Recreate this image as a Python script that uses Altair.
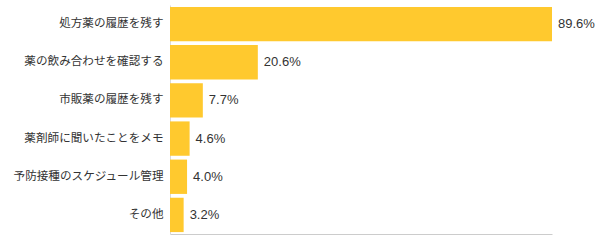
import altair as alt
import pandas as pd

categories = ["処方薬の履歴を残す", "薬の飲み合わせを確認する", "市販薬の履歴を残す",
              "薬剤師に聞いたことをメモ", "予防接種のスケジュール管理", "その他"]
values = [89.6, 20.6, 7.7, 4.6, 4.0, 3.2]

df = pd.DataFrame({"cat": categories, "v": values})

FONT = "Liberation Sans, Noto Sans CJK JP, sans-serif"

base = alt.Chart(df).encode(
    y=alt.Y("cat:N", sort=categories, title=None,
            scale=alt.Scale(paddingInner=0.1, paddingOuter=0.05),
            axis=alt.Axis(ticks=False, domain=True, domainColor="#d9d9d9",
                          labelFontSize=11.6, labelColor="#333333", labelFont=FONT,
                          labelFontWeight="normal",
                          labelPadding=7, labelLimit=300)),
    x=alt.X("v:Q", title=None, scale=alt.Scale(domain=[0, 89.6], nice=False),
            axis=alt.Axis(ticks=False, labels=False, grid=False, domain=True,
                          domainColor="#cccccc")),
)

bars = base.mark_bar(color="#FFC92E")
text = base.transform_calculate(
    label="format(datum.v, '.1f') + '%'"
).mark_text(align="left", baseline="middle", dx=6, fontSize=13,
            color="#333333", font=FONT).encode(text="label:N")

chart = (bars + text).properties(
    width=382, height=229,
    autosize=alt.AutoSizeParams(type="none"),
    padding={"left": 170, "top": 5, "right": 49, "bottom": 6},
).configure_view(stroke=None)

chart.save("out.html", embed_options={"renderer": "svg", "actions": False})
